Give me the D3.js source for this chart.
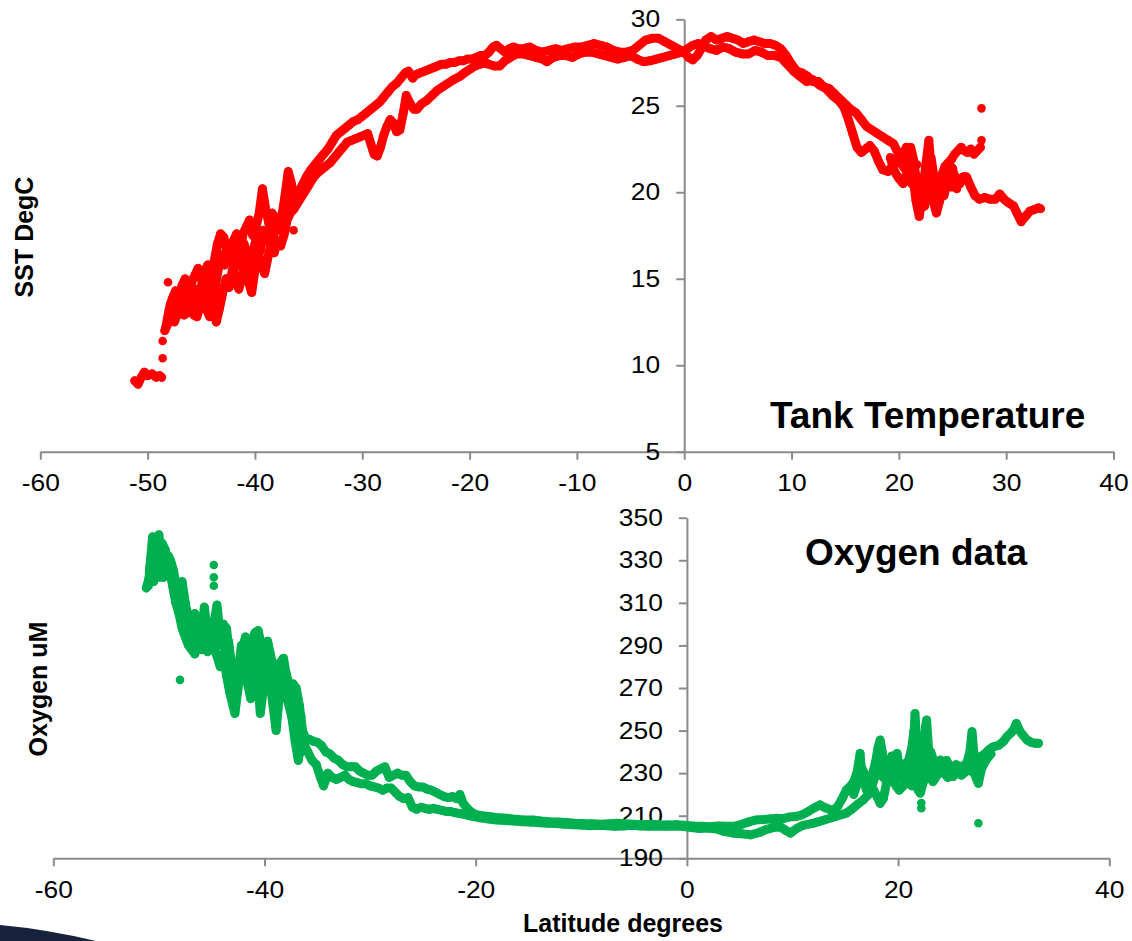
<!DOCTYPE html>
<html><head><meta charset="utf-8">
<script src="https://cdn.jsdelivr.net/npm/d3@7"></script>
<style>
html,body{margin:0;padding:0;background:#fff;}
svg{display:block;}
text{font-family:"Liberation Sans",Arial,sans-serif;fill:#000;}
</style></head><body>
<svg id="chart" width="1132" height="941"></svg>
<script>
// ---------- DATA ----------
const latTicksTop = [-60,-50,-40,-30,-20,-10,0,10,20,30,40];
const sstTicks = [5,10,15,20,25,30];
const latTicksBottom = [-60,-40,-20,0,20,40];
const o2Ticks = [190,210,230,250,270,290,310,330,350];

// SST (degC) vs latitude
const sstStart = [[-51.2,9.1],[-50.9,8.9],[-50.6,9.3],[-50.3,9.6],[-50.0,9.4],[-49.6,9.5],[-49.2,9.3],[-48.9,9.4],[-48.7,9.3]];
const sstPassA = [[-48.3,12.2],[-48.0,13.2],[-47.7,13.8],[-47.4,14.3],[-47.1,13.6],[-46.8,14.6],[-46.5,15.0],[-46.2,14.2],[-45.9,14.8],[-45.6,15.2],[-45.3,15.6],[-45.0,15.0],[-44.7,15.4],[-44.4,15.8],[-44.1,15.0],[-43.8,16.0],[-43.5,17.0],[-43.2,17.6],[-42.9,17.4],[-42.6,16.5],[-42.3,16.8],[-42.0,17.2],[-41.7,17.6],[-41.4,16.5],[-41.1,17.6],[-40.8,18.0],[-40.5,18.4],[-40.2,17.5],[-39.9,18.0],[-39.6,18.8],[-39.3,20.2],[-39.0,19.0],[-38.7,18.2],[-38.4,18.8],[-38.1,18.5],[-37.8,18.0],[-37.5,18.6],[-37.2,19.8],[-36.9,21.2],[-36.6,20.5],[-36.3,19.5],[-36.0,19.9],[-35.6,20.4],[-35.2,20.9],[-34.8,21.3],[-34.4,21.6],[-34.0,21.9],[-33.6,22.2],[-33.2,22.5],[-32.8,22.9],[-32.4,23.3],[-32.0,23.5],[-31.6,23.7],[-31.2,23.9],[-30.8,24.1],[-30.4,24.2],[-30.0,24.4],[-29.6,24.6],[-29.2,24.8],[-28.8,25.0],[-28.4,25.2],[-28.0,25.5],[-27.6,25.8],[-27.2,26.1],[-26.8,26.3],[-26.4,26.6],[-26.0,26.9],[-25.7,27.0],[-25.3,26.6],[-25.0,26.8],[-24.6,26.9],[-24.2,27.0],[-23.8,27.1],[-23.4,27.2],[-23.0,27.3],[-22.6,27.4],[-22.2,27.4],[-21.8,27.5],[-21.4,27.5],[-21.0,27.6],[-20.6,27.6],[-20.2,27.7],[-19.8,27.7],[-19.4,27.8],[-19.0,27.9],[-18.6,27.9],[-18.2,28.1],[-17.8,28.4],[-17.5,28.5],[-17.1,28.3],[-16.7,28.1],[-16.3,28.3],[-15.9,28.4],[-15.5,28.3],[-15.0,28.3],[-14.4,28.4],[-13.8,28.2],[-13.2,28.1],[-12.6,28.2],[-12.0,28.3],[-11.4,28.2],[-10.8,28.3],[-10.2,28.4],[-9.6,28.4],[-9.0,28.5],[-8.4,28.6],[-7.8,28.5],[-7.2,28.4],[-6.6,28.2],[-6.0,28.1],[-5.4,28.1],[-4.8,28.2],[-4.2,28.5],[-3.6,28.8],[-3.0,28.9],[-2.4,28.9],[-1.8,28.7],[-1.2,28.5],[-0.6,28.3],[0.0,28.1],[0.4,27.8],[0.8,27.65],[1.2,27.9],[1.6,28.3],[2.0,28.8],[2.5,29.0],[3.0,28.8],[3.5,28.9],[4.0,29.0],[4.5,28.9],[5.0,28.8],[5.5,28.6],[6.0,28.7],[6.5,28.8],[7.0,28.7],[7.5,28.6],[8.0,28.6],[8.5,28.5],[9.0,28.3],[9.5,27.9],[10.0,27.4],[10.5,27.0],[11.0,26.9],[11.5,26.7],[12.0,26.4],[12.5,26.4],[13.0,26.1],[13.5,26.0],[14.0,25.7],[14.5,25.4],[15.0,25.1],[15.5,24.8],[16.0,24.6],[16.5,24.2],[17.0,23.8],[17.5,23.6],[18.0,23.4],[18.5,23.2],[19.0,23.0],[19.5,22.8],[19.9,22.3],[20.2,21.7],[20.5,21.4],[20.8,22.0],[21.1,22.6],[21.4,21.8],[21.7,20.2],[22.0,19.0],[22.3,19.6],[22.6,20.6],[22.9,21.4],[23.1,20.2],[23.4,19.2],[23.7,20.1],[24.0,21.0],[24.3,21.5],[24.6,21.7],[24.9,21.9],[25.2,22.2],[25.5,22.4],[25.8,22.6],[26.1,22.4],[26.4,22.3],[26.7,22.5],[27.0,22.2],[27.3,22.4],[27.6,22.6]];
const sstPassB = [[-48.4,12.0],[-48.1,12.4],[-47.8,12.8],[-47.5,12.5],[-47.2,13.0],[-46.9,13.4],[-46.6,12.9],[-46.3,13.6],[-46.0,13.2],[-45.7,12.9],[-45.4,12.8],[-45.1,13.5],[-44.8,14.0],[-44.5,13.2],[-44.2,12.8],[-43.9,13.6],[-43.6,12.5],[-43.3,13.3],[-43.0,14.2],[-42.7,15.0],[-42.4,14.5],[-42.1,15.5],[-41.8,15.0],[-41.5,14.4],[-41.2,15.2],[-40.9,16.0],[-40.6,14.8],[-40.3,14.2],[-40.0,15.5],[-39.7,16.5],[-39.4,15.8],[-39.1,15.3],[-38.8,16.2],[-38.5,17.0],[-38.2,16.5],[-37.9,17.2],[-37.6,16.9],[-37.3,17.5],[-37.0,18.4],[-36.7,18.8],[-36.4,19.0],[-36.1,19.3],[-35.8,19.6],[-35.4,20.0],[-35.0,20.4],[-34.6,20.8],[-34.2,21.1],[-33.8,21.3],[-33.4,21.5],[-33.0,21.7],[-32.6,22.0],[-32.2,22.3],[-31.8,22.6],[-31.4,22.9],[-31.0,23.0],[-30.6,23.1],[-30.2,23.2],[-29.8,23.3],[-29.5,23.4],[-29.2,22.8],[-28.9,22.2],[-28.6,22.1],[-28.3,22.6],[-28.0,23.3],[-27.7,23.8],[-27.4,24.2],[-27.1,24.0],[-26.8,23.5],[-26.5,23.6],[-26.2,24.5],[-25.9,25.6],[-25.6,25.2],[-25.2,24.8],[-24.9,24.8],[-24.5,25.1],[-24.0,25.3],[-23.5,25.6],[-23.0,25.9],[-22.5,26.1],[-22.0,26.3],[-21.5,26.5],[-20.9,26.7],[-20.5,26.9],[-20.0,27.1],[-19.5,27.3],[-19.0,27.4],[-18.6,27.5],[-18.2,27.4],[-17.7,27.3],[-17.2,27.3],[-16.7,27.6],[-16.2,27.8],[-15.6,28.0],[-15.0,28.0],[-14.4,27.9],[-13.8,27.8],[-13.2,27.7],[-12.8,27.55],[-12.2,27.8],[-11.6,27.9],[-11.0,27.9],[-10.4,27.8],[-9.8,28.0],[-9.2,28.1],[-8.6,28.1],[-8.0,28.0],[-7.4,27.9],[-6.8,27.8],[-6.2,27.7],[-5.6,27.8],[-5.0,27.9],[-4.4,27.7],[-3.8,27.55],[-3.2,27.6],[-2.6,27.7],[-2.0,27.8],[-1.4,27.9],[-0.8,28.0],[-0.2,28.1],[0.3,28.3],[0.8,28.5],[1.3,28.6],[1.8,28.5],[2.4,28.3],[3.0,28.2],[3.6,28.4],[4.2,28.3],[4.8,28.1],[5.4,28.0],[6.0,28.0],[6.6,28.2],[7.2,28.1],[7.8,27.9],[8.4,27.9],[9.0,27.8],[9.6,27.4],[10.2,27.0],[10.8,26.7],[11.4,26.4],[12.0,26.5],[12.6,26.2],[13.2,26.0],[13.8,25.6],[14.4,25.3],[14.9,24.9],[15.3,24.2],[15.7,23.4],[16.1,22.6],[16.5,22.3],[16.9,22.5],[17.3,22.7],[17.7,22.4],[18.1,21.8],[18.5,21.3],[19.0,21.2],[19.5,21.6],[19.9,21.8],[20.3,22.1],[20.7,22.6],[21.0,22.4],[21.3,21.0],[21.6,19.5],[21.9,18.6],[22.2,20.0],[22.5,21.5],[22.8,23.0],[23.0,21.0],[23.2,19.5],[23.5,18.8],[23.8,19.5],[24.1,20.2],[24.5,20.6],[24.9,20.3],[25.3,20.9],[25.7,20.5],[26.0,20.9],[26.3,20.9],[26.7,20.3],[27.1,19.8],[27.5,19.6],[28.0,19.7],[28.5,19.6],[29.0,19.6],[29.4,19.9],[29.8,19.6],[30.2,19.4],[30.7,19.2],[31.0,18.8],[31.4,18.3],[31.8,18.6],[32.2,18.9],[32.6,19.0],[33.0,19.1],[33.2,19.05]];
const sstPassC = [[-47.9,13.5],[-47.6,14.0],[-47.3,12.9],[-47.0,13.9],[-46.7,14.2],[-46.4,13.0],[-46.1,14.5],[-45.8,13.6],[-45.5,14.4],[-45.2,13.2],[-44.9,15.0],[-44.6,14.2],[-44.3,14.8],[-44.0,13.4],[-43.7,14.6],[-43.4,15.6],[-43.1,16.4],[-42.8,15.8],[-42.5,17.0],[-42.2,16.0],[-41.9,15.6],[-41.6,16.8],[-41.3,15.8],[-41.0,17.0],[-40.7,16.2],[-40.4,15.2],[-40.1,16.8],[-39.8,17.5],[-39.5,16.6],[-39.2,17.8],[-38.9,17.2],[-38.6,17.8],[-38.3,17.4],[-38.0,18.4],[-37.7,17.8],[-37.4,18.8],[-37.1,19.2],[-36.8,19.8],[-36.5,19.3],[-36.2,19.6]];
const sstPassD = [[19.2,22.0],[19.6,21.2],[20.0,20.8],[20.4,20.5],[20.8,21.2],[21.2,20.5],[21.6,21.0],[22.0,20.6],[22.4,19.2],[22.7,20.0],[23.0,22.0],[23.3,20.8],[23.6,19.6],[23.9,20.6],[24.2,19.8],[24.6,20.8],[25.0,21.4],[25.4,20.2]];
const sstLoose = [[-48.1,14.8],[-48.6,11.4],[-48.6,10.4],[-36.4,17.8],[27.7,24.85],[27.7,23.0],[21.7,21.6],[22.9,22.4]];

// Oxygen (uM) vs latitude
const o2PassA = [[-51.0,318],[-50.8,330],[-50.6,341],[-50.4,335],[-50.2,325],[-50.0,342],[-49.8,332],[-49.6,322],[-49.4,328],[-49.1,332],[-48.9,330],[-48.6,325],[-48.4,318],[-48.1,312],[-47.8,320],[-47.5,310],[-47.2,302],[-46.9,296],[-46.6,305],[-46.3,298],[-46.0,292],[-45.7,308],[-45.4,296],[-45.1,290],[-44.8,300],[-44.5,309],[-44.2,295],[-43.9,300],[-43.6,298],[-43.3,285],[-43.0,276],[-42.7,268],[-42.4,280],[-42.1,288],[-41.8,294],[-41.5,286],[-41.2,292],[-40.9,296],[-40.6,297],[-40.3,290],[-40.0,282],[-39.7,292],[-39.4,285],[-39.1,278],[-38.8,270],[-38.5,282],[-38.2,284],[-37.9,275],[-37.6,268],[-37.3,272],[-37.0,270],[-36.7,262],[-36.4,250],[-36.1,246],[-35.8,246],[-35.4,245],[-35.0,244.5],[-34.6,243],[-34.2,240],[-33.8,239],[-33.4,237],[-33.0,236],[-32.6,234],[-32.2,233],[-31.8,233],[-31.4,233],[-31.0,231],[-30.6,230],[-30.2,229],[-29.8,229],[-29.4,231],[-29.0,232],[-28.6,233],[-28.2,228],[-27.8,229],[-27.4,230],[-27.0,229],[-26.6,229],[-26.2,226],[-25.8,224],[-25.4,223.5],[-25.0,223.5],[-24.6,222.5],[-24.2,222],[-23.8,221],[-23.4,220],[-23.0,219],[-22.6,218.5],[-22.2,219],[-21.8,218],[-21.5,220],[-21.2,216],[-20.9,214],[-20.5,212],[-20.0,210.5],[-19.4,210],[-18.6,209.5],[-17.8,209],[-17.0,208.8],[-16.2,208.3],[-15.4,208],[-14.6,208],[-13.8,207.5],[-13.0,207.2],[-12.2,207],[-11.4,206.8],[-10.6,206.5],[-9.8,206.3],[-9.0,206.2],[-8.2,206],[-7.4,206.2],[-6.6,206.5],[-5.8,206.2],[-5.0,206],[-4.2,205.8],[-3.4,206],[-2.6,205.8],[-1.8,205.7],[-1.0,205.8],[-0.2,205.5],[0.6,205.2],[1.4,205],[2.2,204.8],[3.0,205.2],[3.8,205],[4.5,205],[5.2,206],[5.8,207],[6.5,208],[7.2,208.2],[7.9,208.5],[8.5,208.8],[9.1,208.6],[9.7,209.4],[10.3,209.6],[10.9,210.4],[11.5,212],[12.0,213.5],[12.6,215.1],[13.0,214],[13.5,213],[13.9,212.7],[14.3,214.5],[14.7,218],[15.1,222.1],[15.5,224],[15.8,226],[16.1,230],[16.3,236],[16.4,239.3],[16.5,233],[16.7,226.8],[17.0,222.1],[17.3,226],[17.6,230],[17.9,236],[18.1,242],[18.3,245.6],[18.5,240],[18.7,232],[18.9,225],[19.1,228],[19.3,235],[19.5,233],[19.7,237],[19.9,239.3],[20.1,233],[20.3,230],[20.5,226.8],[20.8,230],[21.1,232],[21.4,236],[21.6,258],[21.8,240],[22.0,225],[22.2,232],[22.4,238],[22.6,252],[22.7,255],[22.9,240],[23.1,232],[23.3,230],[23.6,234],[24.0,236.2],[24.4,233],[24.8,230],[25.2,228.4],[25.6,231],[26.0,233],[26.5,234.6],[26.8,240],[27.0,249.5],[27.2,238],[27.5,233],[27.8,237.7],[28.2,239],[28.6,241],[29.0,242.4],[29.5,243],[30.0,245],[30.3,247.1],[30.7,249],[31.0,251],[31.2,253.4],[31.5,250],[31.8,248],[32.2,245.6],[32.6,244.5],[33.0,244],[33.3,244]];
const o2PassB = [[-51.2,317],[-50.9,322],[-50.5,320],[-50.2,326],[-49.9,336],[-49.6,322],[-49.3,330],[-49.0,326],[-48.7,318],[-48.4,310],[-48.1,305],[-47.8,298],[-47.5,294],[-47.2,290],[-46.9,288],[-46.6,286],[-46.3,292],[-46.0,288],[-45.7,294],[-45.4,287],[-45.1,292],[-44.8,289],[-44.5,285],[-44.2,280],[-43.9,286],[-43.6,276],[-43.3,268],[-43.0,262],[-42.8,258],[-42.5,270],[-42.2,282],[-41.9,286],[-41.6,272],[-41.3,265],[-41.0,272],[-40.7,278],[-40.4,258],[-40.1,270],[-39.8,285],[-39.5,274],[-39.2,262],[-38.9,250],[-38.6,266],[-38.3,282],[-38.0,268],[-37.7,262],[-37.4,256],[-37.1,245],[-36.8,236],[-36.5,245],[-36.2,243],[-35.9,240],[-35.5,236],[-35.1,234],[-34.7,228],[-34.4,224],[-34.0,230],[-33.6,228],[-33.2,227],[-32.8,228],[-32.4,229],[-32.0,227],[-31.6,226],[-31.2,225.5],[-30.8,225],[-30.4,225],[-30.0,224],[-29.6,223.5],[-29.2,223],[-28.8,222],[-28.4,223],[-28.0,223],[-27.6,221],[-27.2,219],[-26.8,218],[-26.4,218.5],[-26.0,214],[-25.6,213],[-25.2,214],[-24.8,213.5],[-24.4,213],[-24.0,213.5],[-23.6,213],[-23.2,212.5],[-22.8,212],[-22.4,212],[-22.0,211.5],[-21.5,211],[-21.0,210.5],[-20.4,209.8],[-19.6,209],[-18.8,208.5],[-18.0,208],[-17.2,207.8],[-16.4,207.5],[-15.6,207.2],[-14.8,207],[-14.0,206.7],[-13.2,206.5],[-12.4,206.3],[-11.6,206],[-10.8,205.8],[-10.0,205.6],[-9.2,205.3],[-8.4,205.5],[-7.6,205.3],[-6.8,205],[-6.0,205.2],[-5.2,205.5],[-4.4,205.2],[-3.6,205],[-2.8,205.2],[-2.0,205],[-1.2,205.2],[-0.4,205],[0.4,204.5],[1.2,204],[2.0,204.2],[2.8,203.8],[3.6,202.5],[4.4,201.8],[5.2,201.5],[6.0,201.0],[6.8,202],[7.5,203.5],[8.2,204.5],[8.8,204.9],[9.4,203],[9.8,201.8],[10.4,204],[11.0,205.5],[12.0,206.5],[13.0,208],[14.0,209.5],[15.1,211.2],[15.6,213],[16.2,215.5],[16.7,217.4],[17.2,220],[17.7,222],[18.0,219],[18.3,215.8],[18.6,218],[18.9,225.2],[19.2,230],[19.5,228],[19.8,224],[20.1,222],[20.5,224],[20.9,226],[21.3,224],[21.6,230],[21.9,222],[22.1,220.6],[22.4,226],[22.7,231],[23.0,228],[23.3,226],[23.7,229],[24.2,231],[24.7,228],[25.2,229],[25.7,230],[26.2,231],[26.7,232],[27.2,230],[27.6,225.2],[27.9,232],[28.3,236],[28.8,239]];
const o2PassC = [[-50.9,325],[-50.6,335],[-50.3,330],[-50.0,322],[-49.7,338],[-49.4,335],[-49.1,326],[-48.8,322],[-48.5,314],[-48.2,318],[-47.9,308],[-47.6,302],[-47.3,298],[-47.0,292],[-46.7,296],[-46.4,290],[-46.1,300],[-45.8,296],[-45.5,291],[-45.2,298],[-44.9,293],[-44.6,298],[-44.3,290],[-44.0,294],[-43.7,288],[-43.4,292],[-43.1,280],[-42.8,272],[-42.5,276],[-42.2,290],[-41.9,280],[-41.6,288],[-41.3,276],[-41.0,286],[-40.7,290],[-40.4,280],[-40.1,288],[-39.8,276],[-39.5,282],[-39.2,270],[-38.9,262],[-38.6,276],[-38.3,272],[-38.0,278],[-37.7,272],[-37.4,265],[-37.1,258],[-36.8,250],[-36.5,240]];
const o2PassD = [[15.8,220],[16.2,226],[16.6,232],[17.0,228],[17.4,222],[17.8,228],[18.2,234],[18.6,228],[19.0,232],[19.4,238],[19.8,230],[20.2,228],[20.6,234],[21.0,236],[21.3,242],[21.5,250],[21.7,246],[21.9,234],[22.2,240],[22.5,245],[22.8,236],[23.1,240],[23.4,235],[23.8,231],[24.2,234],[24.6,236],[25.0,232],[25.5,234],[26.0,229],[26.5,231],[27.0,236],[27.4,231],[27.8,235]];
const o2Loose = [[-48.0,273.8],[-44.8,327.8],[-44.8,322],[-44.8,318],[-36.5,256.5],[-36.5,250.3],[27.6,206.5],[22.2,216],[22.2,213.5],[23.3,228]];

// ---------- DRAW ----------
const svg = d3.select("#chart");
const AXIS = "#8a8a8a";
const RED = "#ff0000", GREEN = "#00b050";
const tickFont = 24;

// slide corner decoration
svg.append("path").attr("d","M0,925 Q45,929 96,941 L0,941 Z").attr("fill","#17223d");

function panel(cfg){
  const g = svg.append("g");
  const x = d3.scaleLinear().domain(cfg.xDomain).range(cfg.xRange);
  const y = d3.scaleLinear().domain(cfg.yDomain).range(cfg.yRange);
  const fmt = d => String(d);
  const gx = g.append("g").attr("transform",`translate(0,${y(cfg.yDomain[0])})`)
    .call(d3.axisBottom(x).tickValues(cfg.xTicks).tickSizeInner(8).tickSizeOuter(0).tickPadding(cfg.xPad).tickFormat(fmt));
  const gy = g.append("g").attr("transform",`translate(${x(0)},0)`)
    .call(d3.axisLeft(y).tickValues(cfg.yTicks).tickSizeInner(8).tickSizeOuter(0).tickPadding(16).tickFormat(fmt));
  [gx,gy].forEach(a=>{
    a.select(".domain").attr("stroke",AXIS).attr("stroke-width",2);
    a.selectAll(".tick line").attr("stroke",AXIS).attr("stroke-width",2);
    a.selectAll(".tick text").attr("font-size",tickFont).attr("fill","#000")
      .style("font-family","'Liberation Sans',Arial,sans-serif");
  });
  gx.selectAll(".tick text").attr("transform","scale(1.1,1)");
  gy.selectAll(".tick text").each(function(){
    const t=d3.select(this); const xx=+t.attr("x");
    t.attr("x",0).attr("transform",`translate(${xx},0) scale(1.1,1)`);
  });
  const line = d3.line().x(d=>x(d[0])).y(d=>y(d[1]));
  const dg = g.append("g");
  cfg.tracks.forEach(tr=>{
    dg.append("path").datum(tr).attr("d",line).attr("fill","none")
      .attr("stroke",cfg.color).attr("stroke-width",9)
      .attr("stroke-linejoin","round").attr("stroke-linecap","round");
  });
  cfg.tracks.concat([cfg.loose]).forEach(tr=>{
    dg.selectAll(null).data(tr).enter().append("circle")
      .attr("cx",d=>x(d[0])).attr("cy",d=>y(d[1])).attr("r",4.3)
      .attr("fill",cfg.color);
  });
  return {x,y,g};
}

panel({
  xDomain:[-60,40], xRange:[40.3,1113.5],
  yDomain:[5,30], yRange:[451.7,19.3],
  xTicks:latTicksTop, yTicks:sstTicks, xPad:14,
  color:RED, tracks:[sstStart,sstPassA,sstPassB,sstPassC,sstPassD], loose:sstLoose
});
panel({
  xDomain:[-60,40], xRange:[53.3,1109.3],
  yDomain:[190,350], yRange:[858.3,517.7],
  xTicks:latTicksBottom, yTicks:o2Ticks, xPad:15,
  color:GREEN, tracks:[o2PassA,o2PassB,o2PassC,o2PassD], loose:o2Loose
});

// titles
svg.append("text").attr("transform","translate(33,237) rotate(-90)")
  .attr("text-anchor","middle").attr("font-weight","bold").attr("font-size",25).text("SST DegC");
svg.append("text").attr("transform","translate(47,689) rotate(-90)")
  .attr("text-anchor","middle").attr("font-weight","bold").attr("font-size",25).text("Oxygen uM");
svg.append("text").attr("x",623).attr("y",932)
  .attr("text-anchor","middle").attr("font-weight","bold").attr("font-size",25).text("Latitude degrees");
svg.append("text").attr("x",770).attr("y",428)
  .attr("font-weight","bold").attr("font-size",37).text("Tank Temperature");
svg.append("text").attr("x",805).attr("y",565)
  .attr("font-weight","bold").attr("font-size",37).text("Oxygen data");
</script>
</body></html>
